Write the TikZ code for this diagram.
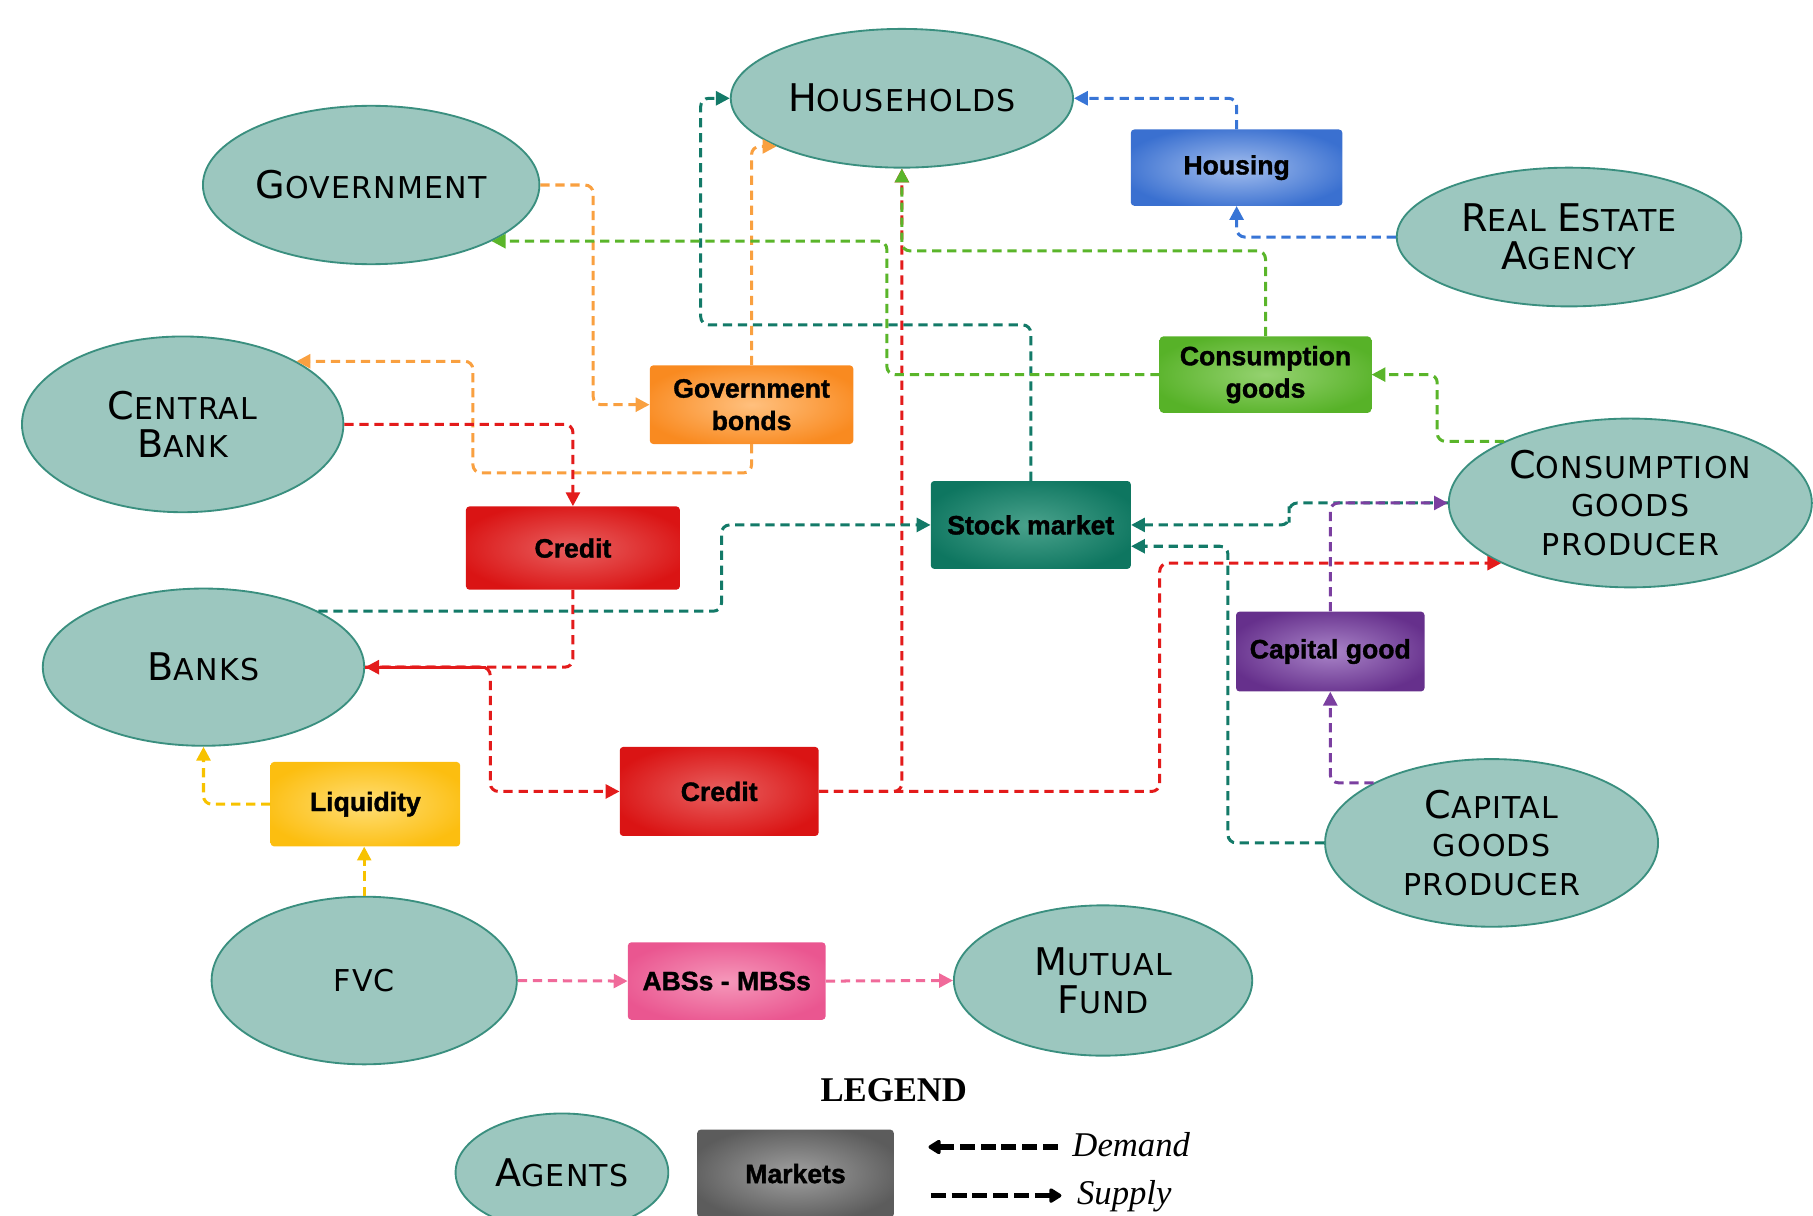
\documentclass[tikz,border=0pt]{standalone}
\usepackage{fontspec}
\usetikzlibrary{shapes.geometric,arrows.meta}
\newfontfamily\agentfont[LetterSpace=4]{DejaVu Sans}
\newfontfamily\boxfont[BoldFeatures={FakeBold=1.3}]{Liberation Sans}
\newfontfamily\legfont{Liberation Serif}
\newcommand\BigL[1]{{\fontsize{33}{33}\selectfont #1}}

\definecolor{agentFill}{HTML}{9CC7BF}
\definecolor{agentBorder}{HTML}{3A8F7F}
\definecolor{cOrange}{HTML}{F9A040}
\definecolor{cRed}{HTML}{E31B1B}
\definecolor{cTeal}{HTML}{137A68}
\definecolor{cGreen}{HTML}{5AB52A}
\definecolor{cPurple}{HTML}{7B3FA0}
\definecolor{cBlue}{HTML}{3875D6}
\definecolor{cYellow}{HTML}{F7C200}
\definecolor{cPink}{HTML}{F06A9A}

\definecolor{blueIn}{HTML}{A3BEEE}\definecolor{blueOut}{HTML}{3A70D0}
\definecolor{orangeIn}{HTML}{FFC07E}\definecolor{orangeOut}{HTML}{F98A20}
\definecolor{greenIn}{HTML}{95D270}\definecolor{greenOut}{HTML}{57B228}
\definecolor{redIn}{HTML}{E86060}\definecolor{redOut}{HTML}{DA1414}
\definecolor{tealIn}{HTML}{4AA28C}\definecolor{tealOut}{HTML}{0E7660}
\definecolor{purpleIn}{HTML}{A984C8}\definecolor{purpleOut}{HTML}{66308C}
\definecolor{yellowIn}{HTML}{FFDE75}\definecolor{yellowOut}{HTML}{FCBE10}
\definecolor{pinkIn}{HTML}{F598BA}\definecolor{pinkOut}{HTML}{EA5690}
\definecolor{grayIn}{HTML}{A0A0A0}\definecolor{grayOut}{HTML}{5C5C5C}

\pgfdeclareradialshading{shBlue}{\pgfpoint{0bp}{0bp}}{color(0bp)=(blueIn); color(28bp)=(blueOut); color(50bp)=(blueOut)}
\pgfdeclareradialshading{shOrange}{\pgfpoint{0bp}{0bp}}{color(0bp)=(orangeIn); color(28bp)=(orangeOut); color(50bp)=(orangeOut)}
\pgfdeclareradialshading{shGreen}{\pgfpoint{0bp}{0bp}}{color(0bp)=(greenIn); color(28bp)=(greenOut); color(50bp)=(greenOut)}
\pgfdeclareradialshading{shRed}{\pgfpoint{0bp}{0bp}}{color(0bp)=(redIn); color(28bp)=(redOut); color(50bp)=(redOut)}
\pgfdeclareradialshading{shTeal}{\pgfpoint{0bp}{0bp}}{color(0bp)=(tealIn); color(28bp)=(tealOut); color(50bp)=(tealOut)}
\pgfdeclareradialshading{shPurple}{\pgfpoint{0bp}{0bp}}{color(0bp)=(purpleIn); color(28bp)=(purpleOut); color(50bp)=(purpleOut)}
\pgfdeclareradialshading{shYellow}{\pgfpoint{0bp}{0bp}}{color(0bp)=(yellowIn); color(28bp)=(yellowOut); color(50bp)=(yellowOut)}
\pgfdeclareradialshading{shPink}{\pgfpoint{0bp}{0bp}}{color(0bp)=(pinkIn); color(28bp)=(pinkOut); color(50bp)=(pinkOut)}
\pgfdeclareradialshading{shGray}{\pgfpoint{0bp}{0bp}}{color(0bp)=(grayIn); color(28bp)=(grayOut); color(50bp)=(grayOut)}

\begin{document}
\begin{tikzpicture}[x=1pt,y=-1pt,
  agent/.style={ellipse, draw=agentBorder, fill=agentFill, line width=1.6pt, inner sep=0pt, align=center,
    font=\agentfont\fontsize{26}{33}\selectfont},
  market/.style={rectangle, rounded corners=3pt, inner sep=0pt, align=center,
    font=\boxfont\bfseries\fontsize{23}{28}\selectfont},
  conn/.style={line width=2.6pt, dash pattern=on 8pt off 5pt, rounded corners=7pt,
    -{Triangle[length=12pt,width=12pt]}},
  legarrow/.style={line width=4.5pt, dash pattern=on 13pt off 5pt,
    -{Triangle[length=12pt,width=14pt,round]}},
]
\useasboundingbox (0,0) rectangle (1568,1051);

% agents
\node[agent, minimum width=296, minimum height=120] (hh) at (780,85) {\BigL{H}OUSEHOLDS};
\node[agent, minimum width=291, minimum height=137] (gov) at (321,160) {\BigL{G}OVERNMENT};
\node[agent, minimum width=298, minimum height=120] (rea) at (1357,205) {\BigL{R}EAL \BigL{E}STATE\\\BigL{A}GENCY};
\node[agent, minimum width=278, minimum height=152] (cb) at (158,367) {\BigL{C}ENTRAL\\\BigL{B}ANK};
\node[agent, minimum width=314, minimum height=146] (cgp) at (1410,435) {\BigL{C}ONSUMPTION\\GOODS\\PRODUCER};
\node[agent, minimum width=278, minimum height=136] (banks) at (176,577) {\BigL{B}ANKS};
\node[agent, minimum width=288, minimum height=145] (kgp) at (1290,729) {\BigL{C}APITAL\\GOODS\\PRODUCER};
\node[agent, minimum width=264, minimum height=145] (fvc) at (315,848) {FVC};
\node[agent, minimum width=258, minimum height=130] (mf) at (954,848) {\BigL{M}UTUAL\\\BigL{F}UND};

% markets
\node[market, shading=shBlue, minimum width=183, minimum height=66] (housing) at (1069.5,145) {Housing};
\node[market, shading=shOrange, minimum width=176, minimum height=68] (bonds) at (650,350) {Government\\bonds};
\node[market, shading=shGreen, minimum width=183, minimum height=66] (cgoods) at (1094.5,324) {Consumption\\goods};
\node[market, shading=shRed, minimum width=185, minimum height=72] (credit1) at (495.5,474) {Credit};
\node[market, shading=shTeal, minimum width=173, minimum height=76] (stock) at (891.5,454) {Stock market};
\node[market, shading=shPurple, minimum width=163, minimum height=69] (capgood) at (1150.5,563.5) {Capital good};
\node[market, shading=shYellow, minimum width=164, minimum height=73] (liq) at (316,695.5) {Liquidity};
\node[market, shading=shRed, minimum width=172, minimum height=77] (credit2) at (622,684.5) {Credit};
\node[market, shading=shPink, minimum width=171, minimum height=67] (abs) at (628.5,848.5) {ABSs - MBSs};

% orange
\draw[conn, cOrange] (gov.east) -| (513,300) |- (bonds.west);
\draw[conn, cOrange] (bonds.north) |- (hh.-159);
\draw[conn, cOrange] (bonds.south) |- (409,409) |- (cb.29);
% red
\draw[conn, cRed] (cb.east) -| (credit1.north);
\draw[conn, cRed] (credit1.south) |- (banks.east);
\draw[cRed, line width=2.6pt] (banks.east) -- (420,577);
\draw[conn, cRed] (banks.east) -- (424,577) |- (credit2.west);
\draw[conn, cRed] (credit2.east) -| (hh.south);
\draw[conn, cRed] (credit2.east) -| (1003,560) |- (cgp.-155);
% teal
\draw[conn, cTeal] (banks.26) -| (624,500) |- (stock.west);
\draw[conn, cTeal] (stock.north) |- (606,281) |- (hh.west);
\draw[conn, cTeal] (cgp.west) -| (1115,445) |- (stock.east);
\draw[conn, cTeal] (kgp.west) -| (1062,600) |- (stock.-12);
% green
\draw[conn, cGreen] (cgoods.west) -| (767,260) |- (gov.-25);
\draw[conn, cGreen] (cgoods.north) |- (780,217) -- (hh.south);
\draw[conn, cGreen] (cgp.154) -| (1243,350) |- (cgoods.east);
% purple
\draw[conn, cPurple] (kgp.153) -| (capgood.south);
\draw[conn, cPurple] (capgood.north) |- (cgp.west);
% blue
\draw[conn, cBlue] (rea.west) -| (housing.south);
\draw[conn, cBlue] (housing.north) |- (hh.east);
% yellow
\draw[conn, cYellow] (liq.west) -| (banks.south);
\draw[conn, cYellow] (fvc.north) -- (fvc.north |- liq.south);
% pink
\draw[conn, cPink] (fvc.east) -- (abs.west);
\draw[conn, cPink] (abs.east) -- (mf.west);

% legend
\node[anchor=base, font=\legfont\bfseries\fontsize{30}{30}\selectfont] (legtitle) at (773,953) {LEGEND};
\node[agent, minimum width=184, minimum height=102] (agents) at (486,1014) {\BigL{A}GENTS};
\node[market, shading=shGray, minimum width=170, minimum height=76] (mk) at (688,1015) {Markets};
\coordinate (dA) at (915,992);
\coordinate (dB) at (803,992);
\coordinate (sA) at (805,1034);
\coordinate (sB) at (918,1034);
\draw[legarrow] (dA) -- (dB);
\draw[legarrow] (sA) -- (sB);
\node[anchor=base west, font=\legfont\itshape\fontsize{30}{30}\selectfont] (dem) at (924,1000) {Demand};
\node[anchor=base west, font=\legfont\itshape\fontsize{30}{30}\selectfont] (sup) at (928,1042) {Supply};
\end{tikzpicture}
\end{document}
